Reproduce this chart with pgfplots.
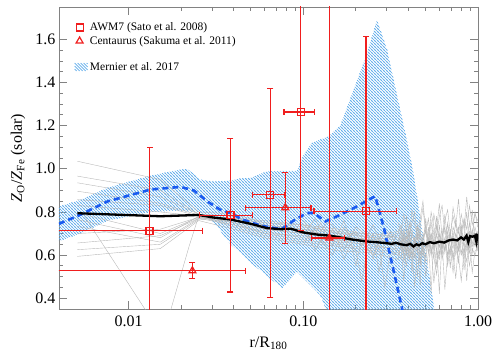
\documentclass[border=0pt]{standalone}
\usepackage{fontspec}
\setmainfont{Liberation Serif}
\usepackage{pgfplots}
\usepackage{pgfplotstable}
\pgfplotsset{compat=1.18}
\usetikzlibrary{patterns}

\definecolor{errred}{RGB}{240,30,30}
\definecolor{merblue}{RGB}{25,90,240}
\definecolor{hatchblue}{RGB}{95,172,235}
\definecolor{thingray}{RGB}{185,185,185}
\definecolor{framegray}{RGB}{130,130,130}

% hatching of the Mernier band, colour built in
\pgfdeclarepatterninherentlycolored{bluehatch}
  {\pgfpoint{-1pt}{-1pt}}{\pgfpoint{4pt}{4pt}}{\pgfpoint{3pt}{3pt}}
  {
    \pgfsetcolor{hatchblue}
    \pgfsetlinewidth{0.65pt}
    \pgfpathmoveto{\pgfpoint{-0.5pt}{3.5pt}}\pgfpathlineto{\pgfpoint{3.5pt}{-0.5pt}}
    \pgfpathmoveto{\pgfpoint{-0.5pt}{0.5pt}}\pgfpathlineto{\pgfpoint{0.5pt}{-0.5pt}}
    \pgfpathmoveto{\pgfpoint{2.5pt}{3.5pt}}\pgfpathlineto{\pgfpoint{3.5pt}{2.5pt}}
    \pgfusepath{stroke}
  }

% individual cluster profiles, inner part
\pgfplotstableread{
x      g1    g2    g3    g4    g5    g6    g7    g8    g9    g10   g11   g12   g13
0.0051 1.035 0.966 0.935 0.896 0.857 0.830 0.795 0.764 0.733 0.700 0.656 0.625 0.594
0.0152 0.950 0.900 0.870 0.840 0.830 0.800 0.700 0.680 0.660 0.720 0.690 0.650 0.630
0.0252 0.800 0.790 0.790 0.785 0.780 0.780 0.775 0.780 0.770 0.775 0.770 0.765 0.760
0.040  0.790 0.760 0.780 0.750 0.770 0.740 0.760 0.730 0.770 0.750 0.740 0.760 0.720
0.060  0.750 0.720 0.740 0.700 0.750 0.710 0.730 0.690 0.760 0.720 0.700 0.740 0.680
0.100  0.740 0.700 0.720 0.690 0.730 0.680 0.710 0.660 0.740 0.700 0.670 0.720 0.650
0.160  0.700 0.690 0.680 0.660 0.710 0.670 0.690 0.640 0.720 0.670 0.650 0.700 0.620
0.250  0.700 0.660 0.670 0.650 0.680 0.640 0.670 0.620 0.690 0.660 0.630 0.680 0.610
0.350  0.680 0.640 0.690 0.620 0.700 0.630 0.660 0.600 0.710 0.650 0.610 0.670 0.580
}\profin

% profiles, middle part
\pgfplotstableread{
x     m1   m2   m3   m4
0.100 0.71 0.74 0.66 0.76
0.108 0.68 0.72 0.69 0.73
0.117 0.73 0.70 0.62 0.77
0.126 0.66 0.75 0.67 0.71
0.136 0.70 0.68 0.64 0.75
0.147 0.64 0.72 0.60 0.74
0.159 0.71 0.66 0.66 0.70
0.171 0.62 0.73 0.58 0.76
0.185 0.69 0.69 0.65 0.68
0.200 0.55 0.71 0.62 0.73
0.216 0.68 0.64 0.48 0.71
0.233 0.66 0.70 0.63 0.69
0.251 0.70 0.58 0.60 0.74
0.271 0.52 0.68 0.65 0.67
0.293 0.67 0.66 0.45 0.72
0.316 0.64 0.71 0.62 0.68
0.341 0.69 0.62 0.60 0.70
}\profmid

% profiles, outer part
\pgfplotstableread{
x     n1   n2   n3   n4   n5   n6   n7   n8   n9   n10
0.350 0.66 0.62 0.70 0.60 0.68 0.64 0.72 0.58 0.75 0.64
0.363 0.71 0.58 0.74 0.64 0.63 0.67 0.64 0.66 0.70 0.69
0.376 0.62 0.68 0.66 0.48 0.72 0.60 0.70 0.61 0.79 0.57
0.390 0.69 0.60 0.78 0.66 0.65 0.72 0.61 0.55 0.72 0.66
0.404 0.58 0.70 0.69 0.58 0.61 0.63 0.75 0.67 0.68 0.71
0.419 0.72 0.52 0.75 0.62 0.70 0.58 0.66 0.60 0.81 0.62
0.434 0.64 0.66 0.80 0.45 0.66 0.68 0.59 0.64 0.74 0.68
0.450 0.70 0.61 0.67 0.63 0.74 0.62 0.73 0.50 0.69 0.64
0.467 0.55 0.72 0.73 0.57 0.60 0.70 0.68 0.66 0.77 0.46
0.484 0.68 0.59 0.82 0.66 0.67 0.64 0.62 0.62 0.85 0.70
0.502 0.74 0.65 0.70 0.50 0.71 0.59 0.77 0.57 0.71 0.63
0.520 0.61 0.70 0.77 0.61 0.64 0.73 0.65 0.68 0.66 0.67
0.539 0.70 0.42 0.65 0.64 0.76 0.61 0.70 0.63 0.80 0.60
0.559 0.66 0.68 0.79 0.47 0.63 0.66 0.58 0.59 0.73 0.72
0.580 0.78 0.62 0.72 0.62 0.69 0.55 0.74 0.51 0.69 0.65
0.601 0.60 0.74 0.84 0.58 0.66 0.70 0.67 0.65 0.78 0.42
0.623 0.69 0.58 0.68 0.66 0.72 0.63 0.63 0.60 0.83 0.68
0.646 0.73 0.64 0.76 0.44 0.61 0.68 0.79 0.67 0.70 0.62
0.670 0.57 0.69 0.81 0.60 0.75 0.60 0.66 0.55 0.74 0.71
0.694 0.70 0.54 0.70 0.63 0.67 0.72 0.60 0.64 0.67 0.64
0.720 0.65 0.71 0.78 0.52 0.63 0.57 0.73 0.61 0.82 0.59
0.746 0.76 0.60 0.73 0.65 0.70 0.66 0.69 0.49 0.75 0.67
0.774 0.62 0.66 0.86 0.59 0.66 0.62 0.56 0.66 0.70 0.73
0.802 0.71 0.73 0.69 0.48 0.74 0.69 0.71 0.60 0.79 0.61
0.832 0.68 0.58 0.77 0.62 0.64 0.53 0.76 0.63 0.72 0.66
0.862 0.80 0.68 0.72 0.66 0.69 0.67 0.62 0.57 0.87 0.48
0.894 0.63 0.75 0.83 0.55 0.71 0.61 0.68 0.67 0.74 0.70
0.927 0.72 0.61 0.74 0.63 0.65 0.70 0.81 0.52 0.69 0.64
0.961 0.67 0.70 0.79 0.60 0.73 0.64 0.65 0.62 0.80 0.67
0.996 0.70 0.66 0.76 0.64 0.68 0.66 0.71 0.63 0.73 0.62
}\profout

% measurements
\pgfplotstableread{
x      y
0.0132 0.713
0.0383 0.784
0.0648 0.880
0.0966 1.263
0.229  0.803
}\awm

\pgfplotstableread{
x      y
0.0232 0.527
0.0789 0.819
0.141  0.679
}\cen

\begin{document}
\begin{tikzpicture}
\begin{axis}[
    name=ax,
    scale only axis,
    width=419pt, height=302pt,
    xmode=log,
    xmin=0.004, xmax=1.0,
    ymin=0.35, ymax=1.75,
    xtick={0.01,0.1,1},
    xticklabels={0.01,0.10,1.00},
    ytick={0.4,0.6,0.8,1.0,1.2,1.4,1.6},
    minor y tick num=3,
    yticklabel style={/pgf/number format/.cd, fixed, fixed zerofill, precision=1},
    /pgf/number format/assume math mode=true,
    tick align=inside,
    major tick length=8pt,
    minor tick length=4pt,
    axis line style={framegray, line width=0.8pt},
    every tick/.style={framegray, line width=0.8pt},
    tick label style={font=\fontsize{16}{18}\selectfont, black},
    xticklabel style={yshift=-3pt},
    label style={font=\fontsize{16}{18}\selectfont},
    xlabel={r/R\textsubscript{180}},
    ylabel={\textit{Z}\textsubscript{O}/\textit{Z}\textsubscript{Fe} (solar)},
    xlabel style={at={(axis description cs:0.5,-0.113)}, anchor=center},
    ylabel style={at={(axis description cs:-0.098,0.5)}, anchor=center},
    legend style={at={(axis description cs:0.036,0.955)}, anchor=north west,
        draw=none, fill=none, inner sep=0pt,
        font=\fontsize{11.5}{13}\selectfont, row sep=0pt,
        /tikz/every odd column/.append style={column sep=0pt}},
    legend cell align=left,
    unbounded coords=jump,
    filter discard warning=false,
]

% Mernier et al. 2017 scatter band (hatched)
\addplot[forget plot, draw=none, pattern=bluehatch] coordinates {
    (0.004,0.825) (0.0053,0.855) (0.0076,0.912) (0.0134,0.968) (0.0181,0.99)
    (0.0216,1.00) (0.0258,0.95) (0.0306,0.94) (0.0383,0.945) (0.0437,0.955)
    (0.050,0.958) (0.062,0.988) (0.075,0.99) (0.092,0.99) (0.100,1.06)
    (0.112,1.12) (0.1395,1.15) (0.163,1.20) (0.231,1.53) (0.264,1.69)
    (0.301,1.555) (0.391,1.136) (0.427,0.98) (0.575,0.30)
    (0.143,0.30) (0.125,0.415) (0.092,0.524) (0.0756,0.447) (0.050,0.565)
    (0.0437,0.61) (0.0383,0.65) (0.031,0.75) (0.0258,0.80) (0.0181,0.805)
    (0.0134,0.80) (0.0076,0.76) (0.0053,0.70) (0.004,0.665)
} -- cycle;

% individual profiles
\pgfplotsset{gline/.style={forget plot, thingray, line width=0.4pt}}
\foreach \c in {g1,g2,g3,g4,g5,g6,g7,g8,g9,g10,g11,g12,g13} {
    \addplot[gline] table[x=x, y=\c] {\profin};
}
\foreach \c in {m1,m2,m3,m4} {
    \addplot[gline] table[x=x, y=\c] {\profmid};
}
\foreach \c in {n1,n2,n3,n4,n5,n6,n7,n8,n9,n10} {
    \addplot[gline] table[x=x, y=\c] {\profout};
}
\addplot[gline] coordinates {(0.0056,0.78) (0.0136,0.30)};
\addplot[gline] coordinates {(0.0168,0.30) (0.0222,0.64) (0.0252,0.78)};

% Mernier mean
\addplot[forget plot, merblue, line width=2.6pt, dash pattern=on 6pt off 4pt] coordinates {
    (0.004,0.745) (0.0053,0.787) (0.0076,0.849) (0.0134,0.904) (0.0198,0.916)
    (0.0236,0.90) (0.0282,0.849) (0.0335,0.81) (0.0383,0.795) (0.045,0.764)
    (0.058,0.735) (0.075,0.72) (0.090,0.765) (0.105,0.795) (0.115,0.795)
    (0.134,0.756) (0.163,0.787) (0.203,0.826) (0.258,0.873) (0.288,0.733)
    (0.328,0.532) (0.366,0.36) (0.38,0.30)
};

% median profile
\addplot[forget plot, black, line width=2.3pt] coordinates {
    (0.0051,0.794) (0.0152,0.780) (0.0252,0.786) (0.030,0.775) (0.0383,0.765)
    (0.050,0.745) (0.062,0.725) (0.075,0.720) (0.085,0.722) (0.100,0.705)
    (0.120,0.695) (0.142,0.690) (0.160,0.683) (0.190,0.672) (0.231,0.663)
    (0.260,0.660) (0.300,0.655) (0.320,0.652) (0.340,0.657) (0.360,0.650)
    (0.391,0.646) (0.410,0.652) (0.427,0.640) (0.445,0.650) (0.460,0.645)
    (0.480,0.655) (0.500,0.650) (0.530,0.660) (0.560,0.655) (0.600,0.662)
    (0.640,0.658) (0.680,0.668) (0.720,0.672) (0.760,0.668) (0.800,0.682)
    (0.830,0.672) (0.860,0.690) (0.880,0.660) (0.900,0.688) (0.930,0.685)
    (0.960,0.690) (0.980,0.660) (0.990,0.692) (1.000,0.690)
};

% horizontal error bars (AWM7, then Centaurus), one path
\addplot[forget plot, errred, line width=1.3pt, mark=|, mark size=3pt, mark options={solid}]
coordinates {
    (0.0002,0.713) (0.0264,0.713) (0.01,nan)
    (0.0255,0.784) (0.0511,0.784) (0.01,nan)
    (0.0514,0.880) (0.0782,0.880) (0.01,nan)
    (0.0776,1.263) (0.1156,1.263) (0.01,nan)
    (0.115,0.803)  (0.343,0.803)  (0.01,nan)
    (0.0004,0.527) (0.0466,0.527) (0.01,nan)
    (0.0469,0.819) (0.1109,0.819) (0.01,nan)
    (0.111,0.679)  (0.172,0.679)
};
% vertical error bars, one path
\addplot[forget plot, errred, line width=1.3pt, mark=-, mark size=3pt, mark options={solid}]
coordinates {
    (0.0132,0.328) (0.0132,1.098) (0.01,nan)
    (0.0383,0.429) (0.0383,1.139) (0.01,nan)
    (0.0648,0.403) (0.0648,1.372) (0.01,nan)
    (0.0966,0.713) (0.0966,2.063) (0.01,nan)
    (0.229,-0.006) (0.229,1.612)  (0.01,nan)
    (0.0232,0.492) (0.0232,0.564) (0.01,nan)
    (0.0789,0.654) (0.0789,0.984) (0.01,nan)
    (0.141,-0.521) (0.141,1.879)
};

% points
\addplot[forget plot, only marks, errred, mark=square, mark size=3.5pt,
    mark options={solid, line width=1.2pt}] table[x=x, y=y] {\awm};
\addplot[forget plot, only marks, errred, mark=triangle, mark size=4pt,
    mark options={solid, line width=1.2pt}] table[x=x, y=y] {\cen};

\addlegendimage{legend image code/.code={\draw[errred, line width=1.2pt, mark=square, mark size=3.5pt] plot coordinates {(5pt,0pt)};}}
\addlegendentry{AWM7 (Sato et al. 2008)}
\addlegendimage{legend image code/.code={\draw[errred, line width=1.2pt, mark=triangle, mark size=4pt] plot coordinates {(5pt,0pt)};}}
\addlegendentry{Centaurus (Sakuma et al. 2011)}
\addlegendimage{empty legend}
\addlegendentry{\rule{0pt}{7pt}}
\addlegendimage{legend image code/.code={
    \draw[hatchblue, line width=0.65pt]
      (0pt,-2pt) -- (2pt,-4pt)  (0pt,1pt) -- (5pt,-4pt)  (0pt,4pt) -- (8pt,-4pt)
      (3pt,4pt) -- (11pt,-4pt)  (6pt,4pt) -- (13pt,-3pt) (9pt,4pt) -- (13pt,0pt)
      (12pt,4pt) -- (13pt,3pt);}}
\addlegendentry{Mernier et al. 2017}
\end{axis}
\pgfresetboundingbox
\path ([xshift=-59pt,yshift=-47pt]ax.south west) rectangle ([xshift=20pt,yshift=7pt]ax.north east);
\end{tikzpicture}
\end{document}
